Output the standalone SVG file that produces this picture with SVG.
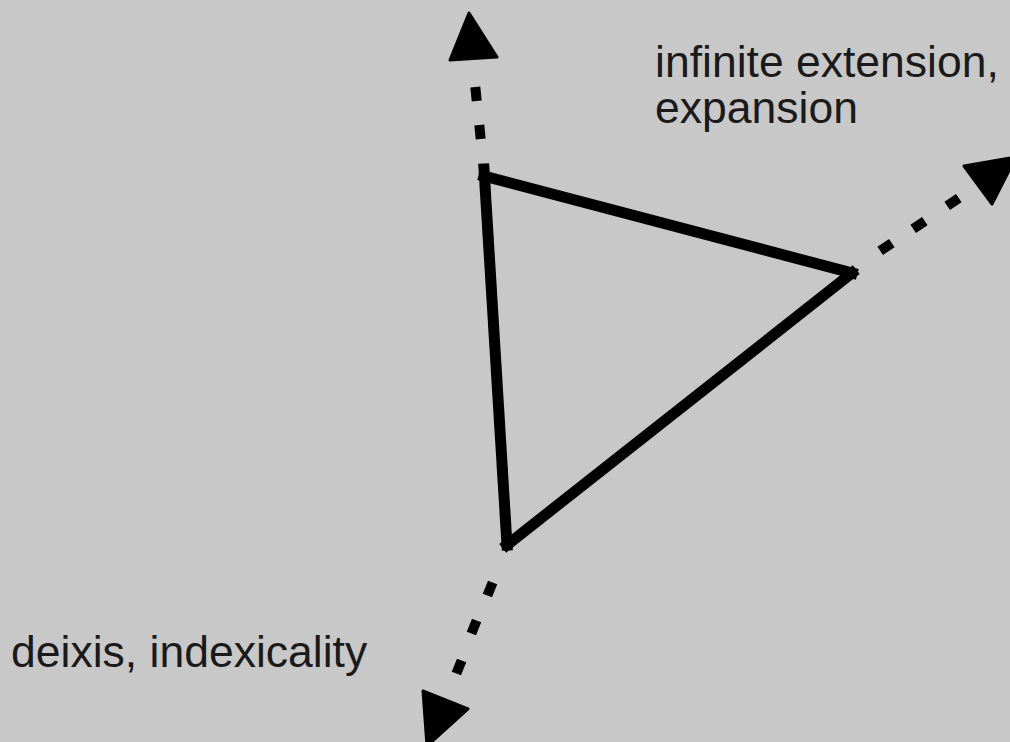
<svg xmlns="http://www.w3.org/2000/svg" width="1010" height="742" viewBox="0 0 1010 742">
<style>
.edge{stroke:#000;stroke-width:11;fill:none;stroke-linecap:square}
.dash{stroke:#000;stroke-width:10;fill:none;stroke-linecap:butt}
.head{fill:#000;stroke:#000;stroke-width:3;stroke-linejoin:round}
.lbl{font-family:"Liberation Sans",Arial,sans-serif;font-size:44.5px;fill:#1a1a1a}
</style>
<rect width="1010" height="742" fill="#c8c8c8"/>
<g id="triangle">
<line class="edge" x1="484" y1="176" x2="852" y2="273"/>
<line class="edge" x1="852" y1="273" x2="507" y2="545"/>
<line class="edge" x1="507" y1="545" x2="484" y2="169"/>
</g>
<g id="connectors">
<path class="dash" d="M475.3,87 L476.7,101 M479.3,125 L480.7,139"/>
<polygon class="head" points="469,13 450,60 497,57"/>
<path class="dash" d="M880.2,250.9 L891.8,243.1 M913.2,228.9 L924.8,221.1 M947.2,205.9 L958.8,198.1"/>
<polygon class="head" points="964,166 1016,157 992,204"/>
<path class="dash" d="M492.6,582.5 L487.4,595.5 M476.6,620.5 L471.4,633.5 M461.6,660.5 L456.4,673.5"/>
<polygon class="head" points="423,691 468,709 427,746"/>
</g>
<g id="label-extension">
<text class="lbl" x="655" y="77">infinite extension,</text>
<text class="lbl" x="655" y="123">expansion</text>
</g>
<g id="label-deixis">
<text class="lbl" x="11" y="667">deixis, indexicality</text>
</g>
</svg>
